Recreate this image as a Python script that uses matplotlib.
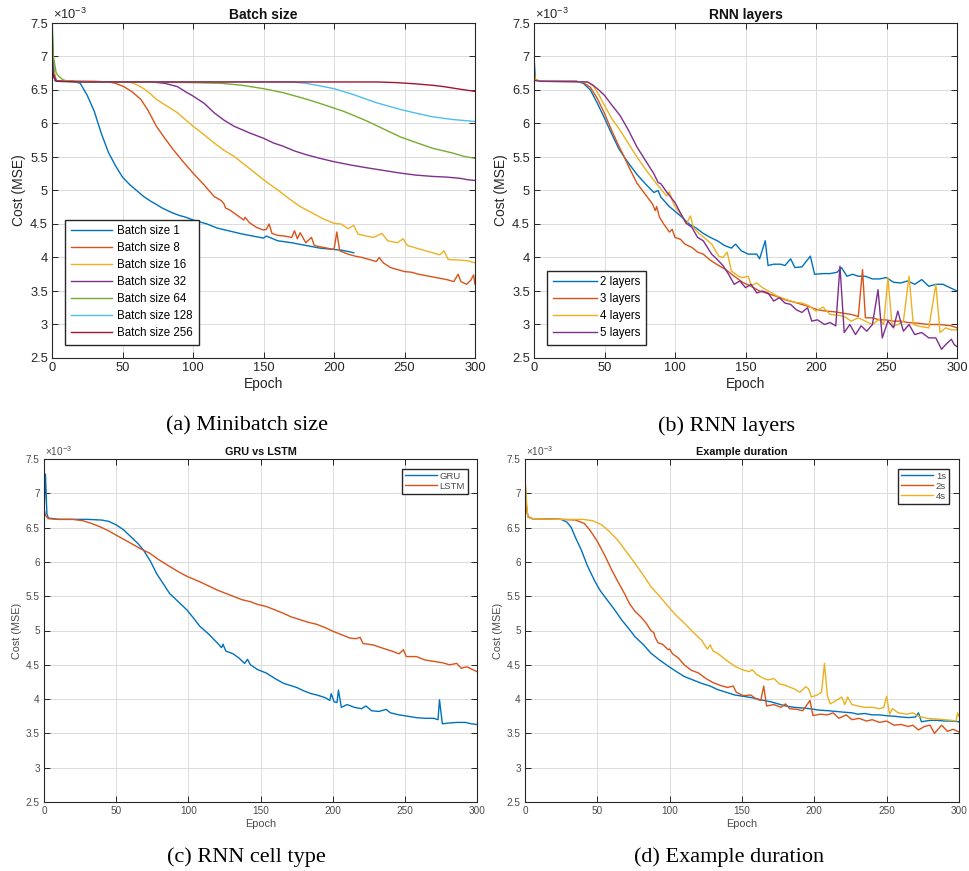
import matplotlib
matplotlib.use("Agg")
import matplotlib.pyplot as plt

plt.rcParams['font.family'] = ['Liberation Sans', 'DejaVu Sans']
plt.rcParams['mathtext.fontset'] = 'custom'
plt.rcParams['mathtext.rm'] = 'Liberation Sans'
plt.rcParams['mathtext.it'] = 'Liberation Sans:italic'

# ---------------- data (cost values in units of 1e-3) ----------------
# (a) Batch size
a_labels = ["Batch size 1", "Batch size 8", "Batch size 16", "Batch size 32",
            "Batch size 64", "Batch size 128", "Batch size 256"]
a_bs1_x = [0, 1, 2, 5, 10, 15, 20, 25, 30, 35, 40, 45, 50, 55, 60, 65, 70, 75, 78, 80, 85, 90, 95,
           100, 110, 117, 125, 135, 145, 150, 152, 160, 170, 180, 190, 200, 205, 210, 214]
a_bs1_y = [7.45, 6.9, 6.64, 6.63, 6.63, 6.63, 6.6, 6.42, 6.18, 5.85, 5.57, 5.37, 5.2, 5.09, 5.0, 4.91,
           4.84, 4.78, 4.74, 4.72, 4.67, 4.63, 4.6, 4.56, 4.5, 4.44, 4.4, 4.35, 4.31, 4.29, 4.32, 4.25,
           4.22, 4.18, 4.14, 4.12, 4.11, 4.09, 4.07]
a_bs8_x = [0, 1, 3, 10, 20, 30, 40, 45, 51, 57, 63, 68, 74, 80, 86, 93, 100, 108, 115, 120, 122, 123,
           126, 130, 136, 137, 140, 145, 150, 152, 154, 156, 160, 165, 170, 172, 174, 176, 180, 184, 186,
           190, 195, 200, 202, 204, 210, 215, 220, 225, 230, 232, 235, 240, 245, 250, 255, 260, 265, 270,
           275, 280, 285, 288, 290, 294, 297, 299, 300]
a_bs8_y = [7.3, 6.8, 6.64, 6.63, 6.63, 6.63, 6.62, 6.6, 6.55, 6.47, 6.36, 6.2, 5.96, 5.78, 5.61, 5.43,
           5.26, 5.08, 4.91, 4.85, 4.8, 4.74, 4.71, 4.65, 4.56, 4.6, 4.52, 4.45, 4.41, 4.42, 4.5, 4.36,
           4.33, 4.32, 4.3, 4.4, 4.28, 4.37, 4.22, 4.3, 4.18, 4.16, 4.14, 4.12, 4.38, 4.1, 4.05, 4.02,
           4.0, 3.97, 3.94, 4.0, 3.92, 3.85, 3.82, 3.79, 3.78, 3.75, 3.73, 3.71, 3.69, 3.67, 3.64, 3.75,
           3.64, 3.6, 3.66, 3.74, 3.6]
a_bs16_x = [0, 1, 3, 10, 30, 55, 60, 65, 70, 74, 80, 89, 95, 100, 108, 115, 122, 129, 140, 150, 160,
            168, 176, 185, 192, 200, 205, 210, 214, 217, 223, 228, 234, 238, 245, 249, 252, 260, 265,
            270, 275, 278, 281, 290, 295, 300]
a_bs16_y = [7.3, 6.8, 6.64, 6.63, 6.62, 6.62, 6.58, 6.52, 6.44, 6.36, 6.28, 6.16, 6.05, 5.96, 5.83,
            5.71, 5.6, 5.51, 5.33, 5.16, 5.01, 4.88, 4.76, 4.66, 4.58, 4.51, 4.5, 4.43, 4.48, 4.35, 4.32,
            4.3, 4.36, 4.25, 4.22, 4.28, 4.18, 4.13, 4.1, 4.07, 4.04, 4.1, 3.97, 3.96, 3.95, 3.92]
a_bs32_x = [0, 1, 3, 10, 40, 70, 75, 80, 89, 95, 100, 108, 115, 122, 129, 140, 150, 157, 164, 172,
            181, 190, 200, 212, 223, 235, 247, 258, 270, 280, 290, 295, 300]
a_bs32_y = [7.2, 6.75, 6.64, 6.63, 6.62, 6.62, 6.61, 6.6, 6.55, 6.47, 6.41, 6.3, 6.16, 6.05, 5.96,
            5.86, 5.78, 5.71, 5.66, 5.59, 5.53, 5.48, 5.43, 5.38, 5.34, 5.3, 5.26, 5.23, 5.21, 5.2,
            5.18, 5.16, 5.15]
a_bs64_x = [0, 1, 3, 5, 8, 12, 20, 60, 100, 120, 135, 150, 164, 181, 190, 200, 207, 214, 223, 235,
            247, 259, 270, 284, 292, 300]
a_bs64_y = [7.6, 7.0, 6.75, 6.7, 6.65, 6.63, 6.62, 6.62, 6.61, 6.6, 6.57, 6.52, 6.46, 6.36, 6.3,
            6.23, 6.18, 6.12, 6.04, 5.92, 5.8, 5.71, 5.63, 5.56, 5.51, 5.48]
a_bs128_x = [0, 1, 3, 20, 100, 170, 180, 188, 200, 214, 230, 247, 259, 270, 284, 300]
a_bs128_y = [7.0, 6.7, 6.63, 6.62, 6.62, 6.62, 6.6, 6.57, 6.52, 6.43, 6.31, 6.21, 6.15, 6.1, 6.06, 6.03]
a_bs256_x = [0, 1, 3, 20, 100, 230, 245, 259, 270, 278, 290, 300]
a_bs256_y = [7.0, 6.7, 6.63, 6.62, 6.62, 6.62, 6.61, 6.59, 6.57, 6.55, 6.51, 6.48]

# (b) RNN layers
b_labels = ["2 layers", "3 layers", "4 layers", "5 layers"]
b_l2_x = [0, 1, 5, 30, 35, 40, 45, 50, 55, 60, 64, 68, 73, 79, 85, 88, 90, 96, 100, 105, 110, 115, 120,
          125, 130, 135, 140, 143, 147, 152, 158, 160, 164, 166, 170, 175, 178, 182, 185, 190, 196, 199,
          205, 210, 215, 218, 222, 226, 230, 235, 240, 245, 250, 255, 260, 265, 270, 275, 280, 285, 290,
          295, 300]
b_l2_y = [7.0, 6.65, 6.63, 6.63, 6.6, 6.5, 6.3, 6.08, 5.85, 5.63, 5.5, 5.38, 5.24, 5.1, 4.97, 5.0, 4.9,
          4.76, 4.69, 4.6, 4.5, 4.44, 4.36, 4.3, 4.25, 4.18, 4.14, 4.2, 4.1, 4.05, 4.05, 3.98, 4.25,
          3.88, 3.9, 3.9, 3.88, 3.98, 3.85, 3.86, 4.02, 3.75, 3.76, 3.76, 3.78, 3.85, 3.72, 3.75, 3.72,
          3.72, 3.68, 3.68, 3.7, 3.63, 3.62, 3.65, 3.6, 3.67, 3.57, 3.6, 3.6, 3.55, 3.5]
b_l3_x = [0, 1, 5, 30, 35, 40, 45, 50, 55, 60, 64, 68, 73, 79, 84, 86, 87, 89, 92, 96, 98, 100, 104, 107,
          112, 116, 120, 125, 131, 136, 142, 148, 154, 160, 166, 172, 178, 185, 190, 196, 201, 207, 213,
          219, 225, 230, 233, 235, 240, 245, 249, 255, 260, 265, 272, 280, 288, 296, 300]
b_l3_y = [6.75, 6.65, 6.63, 6.63, 6.61, 6.54, 6.37, 6.15, 5.9, 5.67, 5.5, 5.32, 5.11, 4.94, 4.8, 4.7,
          4.76, 4.6, 4.5, 4.38, 4.42, 4.3, 4.27, 4.2, 4.15, 4.08, 4.05, 3.96, 3.88, 3.82, 3.72, 3.63,
          3.57, 3.5, 3.46, 3.42, 3.37, 3.33, 3.3, 3.26, 3.22, 3.2, 3.19, 3.17, 3.15, 3.12, 3.82, 3.1,
          3.1, 3.07, 3.07, 3.05, 3.05, 3.03, 3.02, 3.0, 3.0, 2.98, 2.95]
b_l4_x = [0, 1, 5, 38, 42, 46, 50, 55, 61, 67, 73, 79, 85, 90, 94, 96, 98, 100, 105, 108, 111, 113,
          117, 120, 126, 131, 134, 137, 140, 145, 148, 152, 154, 158, 162, 168, 172, 178, 185, 190, 195,
          200, 205, 210, 215, 220, 225, 230, 235, 240, 245, 248, 251, 254, 258, 262, 266, 269, 274, 280,
          285, 288, 292, 296, 300]
b_l4_y = [6.8, 6.65, 6.63, 6.62, 6.56, 6.43, 6.27, 6.08, 5.9, 5.7, 5.5, 5.32, 5.15, 5.02, 4.92, 4.98,
          4.85, 4.76, 4.62, 4.5, 4.62, 4.45, 4.36, 4.31, 4.2, 4.02, 4.0, 4.08, 3.8, 3.72, 3.7, 3.72,
          3.58, 3.62, 3.55, 3.48, 3.43, 3.38, 3.33, 3.32, 3.28, 3.2, 3.26, 3.15, 3.14, 3.12, 3.05, 3.1,
          3.05, 3.0, 3.08, 3.0, 3.7, 2.97, 3.0, 3.05, 3.72, 3.0, 2.97, 2.95, 3.6, 2.88, 2.95, 2.92, 2.92]
b_l5_x = [0, 1, 5, 38, 42, 46, 50, 55, 61, 67, 73, 79, 85, 88, 90, 94, 97, 100, 104, 108, 112, 116,
          120, 123, 126, 130, 134, 138, 142, 146, 150, 154, 158, 162, 166, 170, 174, 178, 182, 186, 190,
          194, 197, 201, 206, 210, 214, 217, 220, 224, 228, 232, 236, 240, 244, 247, 251, 255, 258, 262,
          266, 270, 275, 280, 285, 289, 292, 296, 298, 300]
b_l5_y = [6.65, 6.64, 6.63, 6.62, 6.57, 6.5, 6.42, 6.28, 6.12, 5.9, 5.65, 5.45, 5.25, 5.12, 5.1,
          4.98, 4.9, 4.82, 4.66, 4.51, 4.45, 4.3, 4.25, 4.15, 4.05, 3.97, 3.88, 3.75, 3.6, 3.65, 3.55,
          3.6, 3.47, 3.5, 3.47, 3.35, 3.4, 3.32, 3.3, 3.22, 3.18, 3.25, 3.05, 3.07, 3.0, 3.03, 2.98,
          3.87, 2.88, 3.0, 2.85, 2.98, 2.9, 3.0, 3.52, 2.8, 3.05, 2.95, 3.2, 2.9, 3.0, 2.85, 2.88, 2.8,
          2.8, 2.63, 2.7, 2.78, 2.7, 2.67]

# (c) GRU vs LSTM
c_labels = ["GRU", "LSTM"]
c_gru_x = [0, 1, 2, 3, 10, 20, 30, 40, 45, 50, 55, 60, 65, 69, 74, 78, 83, 87, 93, 99, 104, 108, 114,
           120, 123, 124, 126, 131, 135, 139, 141, 143, 148, 154, 160, 166, 172, 175, 180, 185, 189, 195,
           198, 199, 201, 203, 204, 206, 210, 215, 220, 223, 227, 232, 237, 240, 246, 252, 258, 264, 270,
           273, 274, 276, 280, 286, 292, 296, 300]
c_gru_y = [6.7, 7.28, 6.7, 6.64, 6.62, 6.62, 6.62, 6.61, 6.59, 6.54, 6.47, 6.37, 6.27, 6.17, 6.0, 5.83,
           5.67, 5.54, 5.42, 5.3, 5.17, 5.06, 4.95, 4.82, 4.75, 4.8, 4.7, 4.66, 4.6, 4.52, 4.58, 4.5,
           4.43, 4.38, 4.3, 4.23, 4.19, 4.17, 4.12, 4.08, 4.06, 4.02, 3.98, 4.08, 3.96, 3.95, 4.13, 3.88,
           3.92, 3.88, 3.86, 3.9, 3.83, 3.82, 3.85, 3.8, 3.77, 3.75, 3.73, 3.72, 3.72, 3.7, 3.99, 3.64,
           3.65, 3.66, 3.66, 3.64, 3.63]
c_lstm_x = [0, 1, 3, 10, 20, 27, 33, 39, 45, 50, 56, 62, 67, 73, 79, 85, 92, 99, 108, 114, 120, 126,
            131, 137, 143, 148, 154, 160, 166, 171, 177, 183, 189, 195, 200, 206, 212, 216, 219, 221,
            228, 235, 241, 246, 249, 251, 258, 264, 270, 276, 281, 286, 289, 293, 297, 300]
c_lstm_y = [6.78, 6.68, 6.63, 6.62, 6.62, 6.6, 6.56, 6.51, 6.45, 6.39, 6.32, 6.25, 6.19, 6.13, 6.04,
            5.96, 5.87, 5.79, 5.71, 5.65, 5.59, 5.54, 5.5, 5.45, 5.42, 5.38, 5.35, 5.3, 5.25, 5.2, 5.16,
            5.12, 5.09, 5.04, 4.99, 4.94, 4.89, 4.88, 4.9, 4.81, 4.79, 4.74, 4.7, 4.66, 4.72, 4.62, 4.62,
            4.57, 4.55, 4.53, 4.5, 4.52, 4.45, 4.47, 4.43, 4.4]

# (d) Example duration
d_labels = ["1s", "2s", "4s"]
d_1s_x = [0, 1, 2, 5, 15, 25, 29, 32, 35, 39, 43, 48, 52, 57, 62, 67, 72, 76, 82, 87, 93, 99, 104, 110,
          116, 122, 128, 133, 139, 145, 151, 157, 163, 170, 175, 180, 186, 192, 197, 203, 210, 215, 220,
          226, 230, 235, 240, 245, 249, 255, 260, 265, 270, 272, 274, 280, 285, 290, 295, 300]
d_1s_y = [6.9, 6.8, 6.66, 6.63, 6.63, 6.62, 6.58, 6.5, 6.35, 6.17, 5.95, 5.73, 5.58, 5.44, 5.3, 5.15,
          5.02, 4.91, 4.79, 4.67, 4.57, 4.48, 4.41, 4.33, 4.28, 4.23, 4.19, 4.14, 4.1, 4.06, 4.04, 4.02,
          3.99, 3.96, 3.93, 3.9, 3.88, 3.87, 3.86, 3.84, 3.83, 3.82, 3.81, 3.8, 3.78, 3.79, 3.77, 3.77,
          3.76, 3.75, 3.74, 3.73, 3.74, 3.8, 3.67, 3.69, 3.69, 3.68, 3.68, 3.67]
d_2s_x = [0, 1, 2, 5, 25, 35, 41, 45, 50, 55, 60, 64, 69, 72, 76, 80, 84, 87, 89, 90, 92, 95, 99, 100,
          102, 106, 110, 115, 120, 125, 130, 135, 140, 144, 146, 151, 156, 160, 163, 165, 167, 172, 177,
          180, 183, 188, 192, 197, 199, 204, 209, 213, 217, 222, 226, 231, 236, 240, 245, 250, 255, 260,
          265, 268, 272, 276, 280, 283, 288, 292, 296, 300]
d_2s_y = [7.2, 6.8, 6.66, 6.63, 6.62, 6.61, 6.56, 6.46, 6.3, 6.1, 5.88, 5.72, 5.53, 5.4, 5.28, 5.2,
          5.1, 5.0, 4.97, 4.9, 4.82, 4.8, 4.72, 4.73, 4.66, 4.6, 4.5, 4.42, 4.38, 4.3, 4.24, 4.2, 4.17,
          4.19, 4.1, 4.05, 4.06, 4.0, 3.98, 4.19, 3.9, 3.92, 3.88, 3.93, 3.86, 3.85, 3.83, 3.98, 3.76,
          3.78, 3.77, 3.8, 3.72, 3.77, 3.7, 3.72, 3.68, 3.7, 3.66, 3.68, 3.62, 3.63, 3.6, 3.62, 3.55,
          3.6, 3.62, 3.5, 3.62, 3.53, 3.56, 3.52]
d_4s_x = [0, 1, 2, 5, 25, 40, 47, 53, 58, 64, 70, 76, 82, 87, 93, 99, 104, 110, 116, 122, 126, 128, 130,
          133, 139, 145, 150, 155, 157, 160, 165, 168, 172, 176, 180, 186, 190, 194, 196, 198, 202, 205,
          207, 209, 211, 215, 219, 221, 223, 226, 230, 235, 240, 245, 248, 250, 252, 254, 258, 264, 268,
          272, 278, 285, 290, 295, 298, 299, 300]
d_4s_y = [7.2, 6.9, 6.65, 6.63, 6.62, 6.62, 6.6, 6.54, 6.45, 6.32, 6.15, 5.98, 5.8, 5.64, 5.5, 5.35,
          5.23, 5.11, 4.98, 4.86, 4.73, 4.79, 4.7, 4.67, 4.57, 4.48, 4.43, 4.4, 4.43, 4.36, 4.3, 4.28,
          4.3, 4.22, 4.2, 4.15, 4.1, 4.18, 4.15, 4.03, 4.06, 4.1, 4.52, 4.05, 3.93, 3.98, 4.03, 3.92,
          4.03, 3.92, 3.9, 3.88, 3.88, 3.86, 3.88, 4.04, 3.78, 3.86, 3.8, 3.78, 3.8, 3.75, 3.72, 3.71,
          3.7, 3.69, 3.68, 3.8, 3.75]

# ---------------- styling ----------------
matlab = ["#0072BD", "#D95319", "#EDB120", "#7E2F8E", "#77AC30", "#4DBEEE", "#A2142F"]
ytick_vals = [2.5, 3, 3.5, 4, 4.5, 5, 5.5, 6, 6.5, 7, 7.5]
xtick_vals = [0, 50, 100, 150, 200, 250, 300]

W, H = 969, 871
fig = plt.figure(figsize=(W / 100, H / 100), dpi=100)


def make_ax(l, t, r, b):
    return fig.add_axes([l / W, 1 - b / H, (r - l) / W, (b - t) / H])


def style(ax, title, fs_tick, fs_lab, fs_title, tcol):
    ax.set_xlim(0, 300)
    ax.set_ylim(2.5, 7.5)
    ax.set_xticks(xtick_vals)
    ax.set_yticks(ytick_vals)
    ax.set_yticklabels(["%g" % v for v in ytick_vals])
    ax.grid(True, color="#dcdcdc", linewidth=0.7)
    ax.set_axisbelow(True)
    for s in ax.spines.values():
        s.set_color("#262626")
        s.set_linewidth(0.8)
    ax.tick_params(direction="in", top=True, right=True, length=4, width=0.7,
                   colors="#262626", labelcolor=tcol, labelsize=fs_tick, pad=3)
    ax.set_xlabel("Epoch", fontsize=fs_lab, color=tcol, labelpad=2)
    ax.set_ylabel("Cost (MSE)", fontsize=fs_lab, color=tcol, labelpad=3)
    ax.set_title(title, fontsize=fs_title, fontweight="bold", color="#111111", pad=3)
    ax.text(0.003, 1.004, r"$\times10^{-3}$", transform=ax.transAxes, ha="left", va="bottom",
            fontsize=fs_tick, color=tcol)


lw = 1.0

# (a)
ax = make_ax(52, 23, 475, 358)
a_series = [(a_bs1_x, a_bs1_y), (a_bs8_x, a_bs8_y), (a_bs16_x, a_bs16_y), (a_bs32_x, a_bs32_y),
            (a_bs64_x, a_bs64_y), (a_bs128_x, a_bs128_y), (a_bs256_x, a_bs256_y)]
for i, (xs, ys) in enumerate(a_series):
    ax.plot(xs, ys, color=matlab[i], lw=lw, label=a_labels[i], clip_on=True)
style(ax, "Batch size", 9.3, 10, 10, "#262626")
ax.legend(loc="lower left", bbox_to_anchor=(0.031, 0.039), borderaxespad=0, fontsize=8.3,
          handlelength=3.6, labelspacing=0.43, fancybox=False, framealpha=1,
          edgecolor="#262626", borderpad=0.5, handletextpad=0.4)

# (b)
ax = make_ax(534, 23, 957, 358)
b_series = [(b_l2_x, b_l2_y), (b_l3_x, b_l3_y), (b_l4_x, b_l4_y), (b_l5_x, b_l5_y)]
for i, (xs, ys) in enumerate(b_series):
    ax.plot(xs, ys, color=matlab[i], lw=lw, label=b_labels[i])
style(ax, "RNN layers", 9.3, 10, 10, "#262626")
ax.legend(loc="lower left", bbox_to_anchor=(0.031, 0.039), borderaxespad=0, fontsize=8.3,
          handlelength=3.8, labelspacing=0.43, fancybox=False, framealpha=1,
          edgecolor="#262626", borderpad=0.5, handletextpad=0.3)

# (c)
ax = make_ax(44, 459, 477, 802)
c_series = [(c_gru_x, c_gru_y), (c_lstm_x, c_lstm_y)]
for i, (xs, ys) in enumerate(c_series):
    ax.plot(xs, ys, color=matlab[i], lw=lw, label=c_labels[i])
style(ax, "GRU vs LSTM", 7.2, 7.8, 7.8, "#4a4a4a")
ax.legend(loc="upper right", bbox_to_anchor=(0.979, 0.971), borderaxespad=0, fontsize=6.8,
          handlelength=3.4, labelspacing=0.1, fancybox=False, framealpha=1,
          edgecolor="#262626", borderpad=0.3, handletextpad=0.3, labelcolor="#4a4a4a")

# (d)
ax = make_ax(525, 459, 959, 802)
d_series = [(d_1s_x, d_1s_y), (d_2s_x, d_2s_y), (d_4s_x, d_4s_y)]
for i, (xs, ys) in enumerate(d_series):
    ax.plot(xs, ys, color=matlab[i], lw=lw, label=d_labels[i])
style(ax, "Example duration", 7.2, 7.8, 7.8, "#4a4a4a")
ax.legend(loc="upper right", bbox_to_anchor=(0.977, 0.971), borderaxespad=0, fontsize=6.8,
          handlelength=3.4, labelspacing=0.1, fancybox=False, framealpha=1,
          edgecolor="#262626", borderpad=0.3, handletextpad=0.3, labelcolor="#4a4a4a")

# captions
cap_font = ["Liberation Serif", "DejaVu Serif"]
fig.text(247 / W, 1 - 426 / H, "(a) Minibatch size", family=cap_font, fontsize=16, ha="center", va="center")
fig.text(727 / W, 1 - 426 / H, "(b) RNN layers", family=cap_font, fontsize=16, ha="center", va="center")
fig.text(246 / W, 1 - 857 / H, "(c) RNN cell type", family=cap_font, fontsize=16, ha="center", va="center")
fig.text(729 / W, 1 - 857 / H, "(d) Example duration", family=cap_font, fontsize=16, ha="center", va="center")

fig.savefig("out.png", dpi=100, facecolor="white")
